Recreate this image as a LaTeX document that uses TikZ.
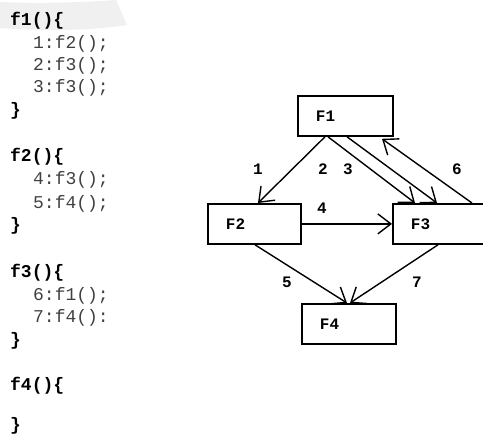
\documentclass[tikz,border=0pt]{standalone}
\usepackage{fontspec}
\newfontfamily\mono{Liberation Mono}
\usetikzlibrary{arrows.meta,calc}
\begin{document}
\begin{tikzpicture}[x=1pt,y=-1pt,
  box/.style={draw=black,line width=1.8pt,rectangle,minimum height=40pt,inner xsep=18pt,inner ysep=0pt,
    align=left,font=\mono\bfseries\fontsize{16}{16}\selectfont,anchor=north west},
  code/.style={anchor=base west,inner sep=0pt,font=\mono\fontsize{18}{18}\selectfont},
  head/.style={code,font=\mono\bfseries\fontsize{18}{18}\selectfont,text=black},
  body/.style={code,text=black!75},
  elabel/.style={font=\mono\bfseries\fontsize{16}{16}\selectfont,inner sep=0pt},
  call/.style={line width=1.4pt,-{Straight Barb[length=13pt,width=20pt,line width=1.4pt]}}]
\useasboundingbox (0,0) rectangle (483,436);
% faint watermark band
\fill[black!6] (0,2) .. controls (40,4) and (90,2) .. (116,0) -- (127,25) .. controls (90,31) and (40,31) .. (0,28) -- cycle;
% code listing
\node[head] (h1) at (10,26) {f1()\{};
\node[body] (l1) at (33,49) {1:f2();};
\node[body] (l2) at (33,71) {2:f3();};
\node[body] (l3) at (33,93) {3:f3();};
\node[head] (c1) at (10,116) {\}};
\node[head] (h2) at (10,162) {f2()\{};
\node[body] (l4) at (33,185) {4:f3();};
\node[body] (l5) at (33,208) {5:f4();};
\node[head] (c2) at (10,231) {\}};
\node[head] (h3) at (10,277) {f3()\{};
\node[body] (l6) at (33,300) {6:f1();};
\node[body] (l7) at (33,322) {7:f4():};
\node[head] (c3) at (10,345) {\}};
\node[head] (h4) at (10,390) {f4()\{};
\node[head] (c4) at (10,430) {\}};
% boxes
\node[box,text width=59pt] (F1) at (297,95) {F1};
\node[box,text width=57pt] (F2) at (207,203) {F2};
\node[box,text width=55pt] (F3) at (392,203) {F3};
\node[box,text width=58pt] (F4) at (301,303) {F4};
% connectors
\draw[call] ([xshift=28pt]F1.south west) -- ([xshift=51pt]F2.north west);
\draw[call] ([xshift=31pt]F1.south west) -- ([xshift=23pt]F3.north west);
\draw[call] ([xshift=50pt]F1.south west) -- ([xshift=45pt]F3.north west);
\draw[call] ([xshift=80pt]F3.north west) -- ([xshift=85pt,yshift=-2pt]F1.south west);
\draw[call] (F2.east) -- (F3.west);
\draw[call] ([xshift=48pt]F2.south west) -- ([xshift=46pt]F4.north west);
\draw[call] ([xshift=46pt]F3.south west) -- ([xshift=49pt]F4.north west);
% edge labels
\node[elabel] (e1) at (258,169) {1};
\node[elabel] (e2) at (323,169) {2};
\node[elabel] (e3) at (348,169) {3};
\node[elabel] (e6) at (457,169) {6};
\node[elabel] (e4) at (322,208) {4};
\node[elabel] (e5) at (287,282) {5};
\node[elabel] (e7) at (417,282) {7};
\end{tikzpicture}
\end{document}
